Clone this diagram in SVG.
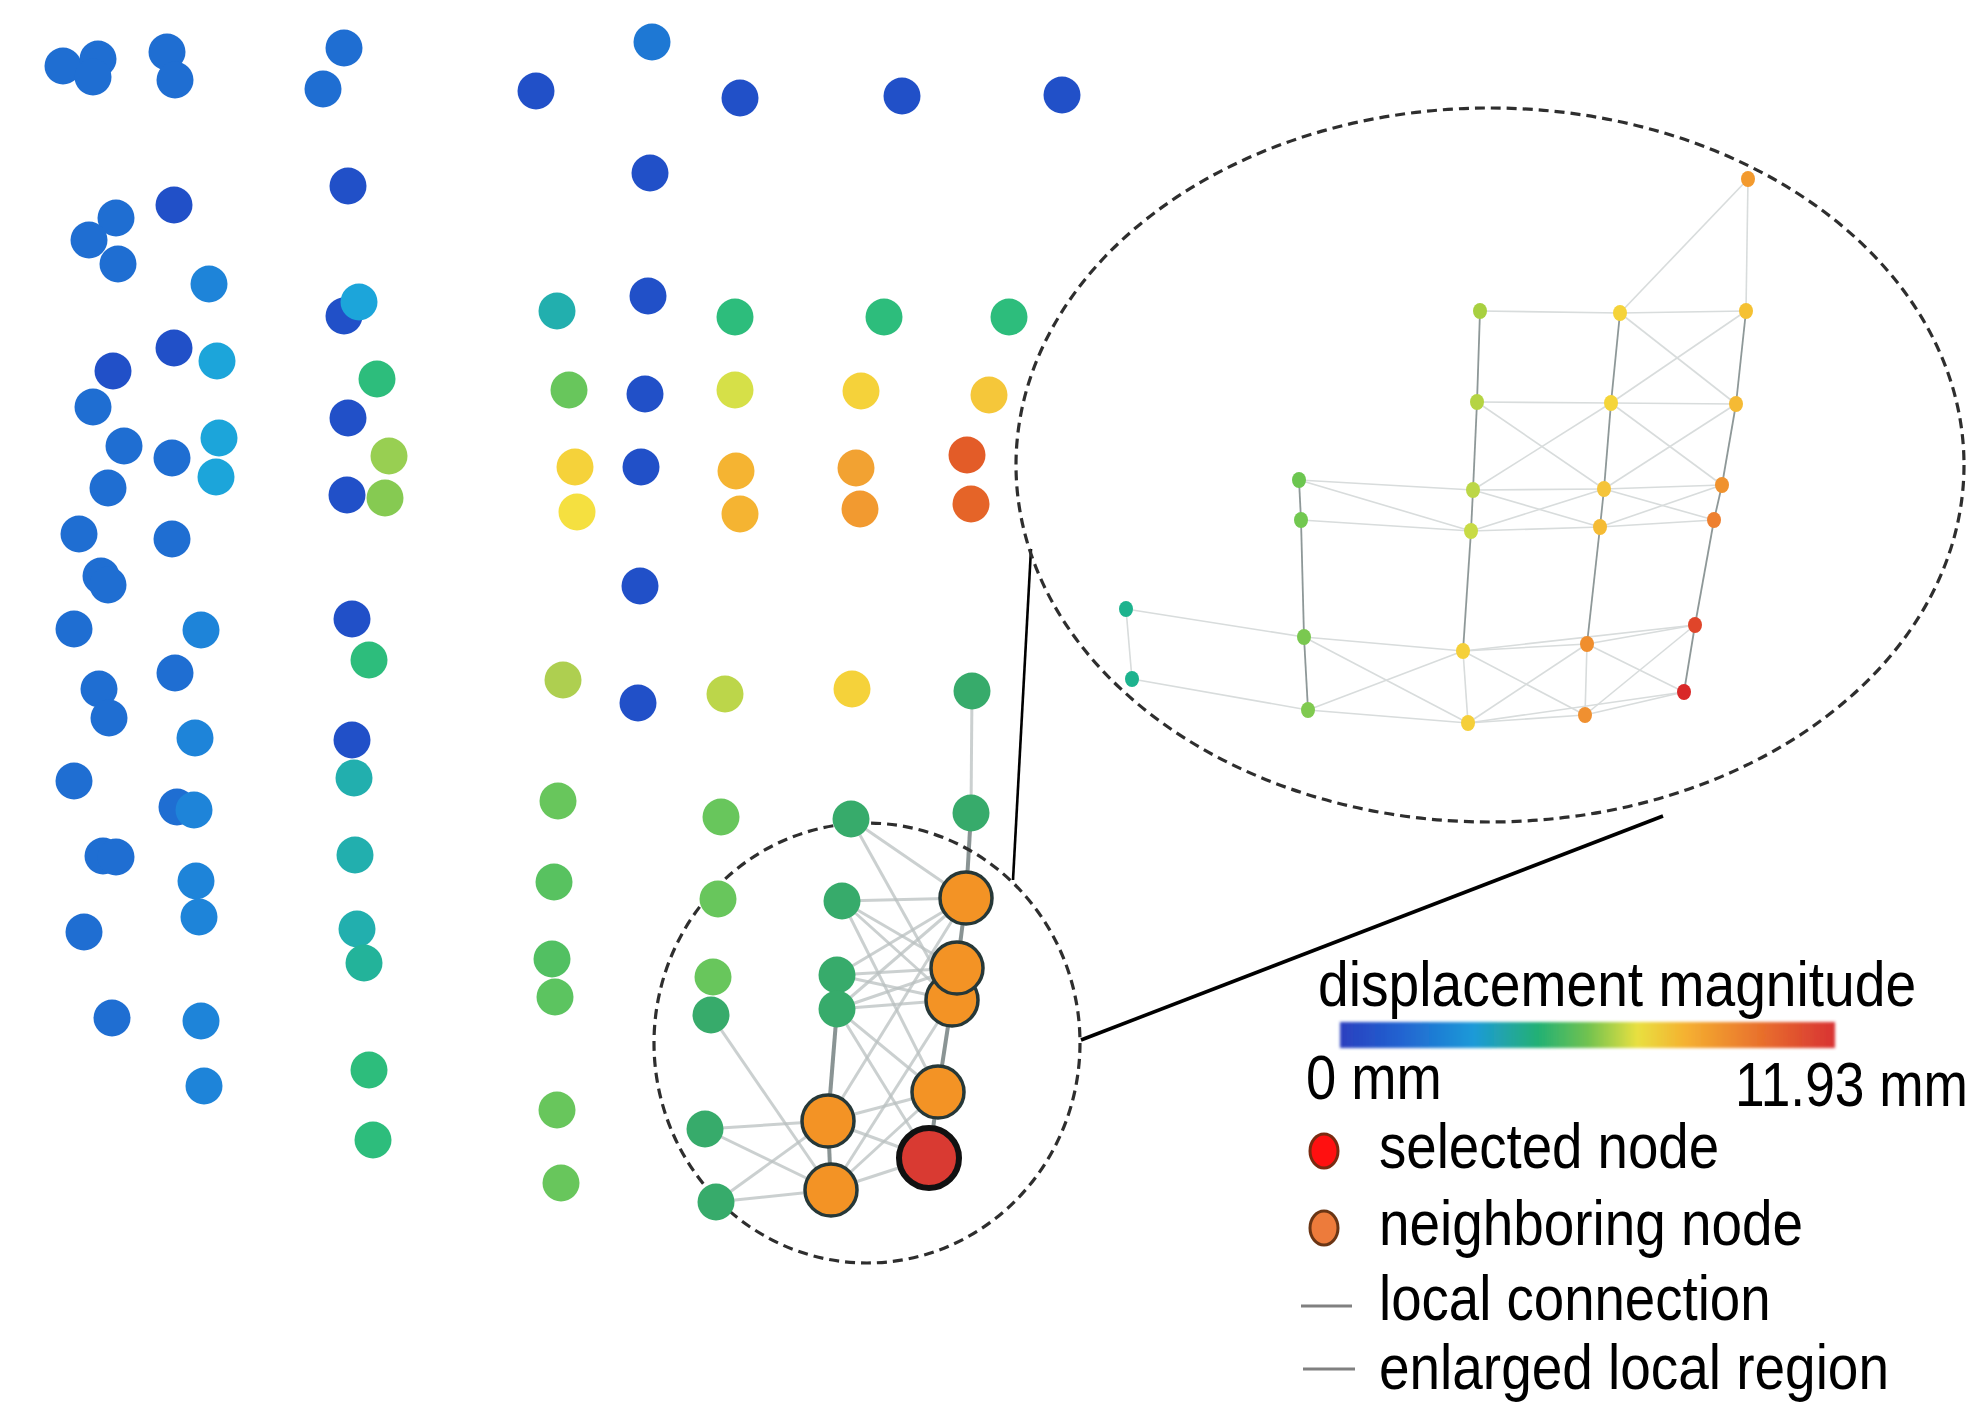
<svg xmlns="http://www.w3.org/2000/svg" width="1984" height="1417" viewBox="0 0 1984 1417">
<defs>
<style>
.d{stroke:none}
.b1{fill:#2150C8}.b2{fill:#1F6ED2}.b3{fill:#1E84D9}.cy{fill:#1CA5DA}.tl{fill:#22AFAE}.tg{fill:#23B39A}
.gr{fill:#2DBD7C}.dg{fill:#37AB6B}.lg{fill:#68C65C}.lg2{fill:#98CF52}.yg{fill:#BCD64A}.yl{fill:#D6E048}
.ye{fill:#F5D23A}.oy{fill:#F5B432}.or{fill:#F29A30}.ro{fill:#E35C28}
.big{fill:#F39325;stroke:#263838;stroke-width:3.5}
.sel{fill:#D93A32;stroke:#111;stroke-width:6}
.e{stroke:#b9c0c0;stroke-width:3;stroke-opacity:0.75;fill:none}
.ed{stroke:#8a9494;stroke-width:4;fill:none}
.ie{stroke:#d8dcdc;stroke-width:1.6;fill:none}
.ied{stroke:#8e9898;stroke-width:1.8;fill:none}
.dash{fill:none;stroke:#2e2e2e;stroke-width:3.2;stroke-dasharray:10 6}
.zl{stroke:#000;fill:none}
.t{font-family:"Liberation Sans",Arial,sans-serif;font-size:63px;fill:#000}
</style>
<linearGradient id="cbar" x1="0" y1="0" x2="1" y2="0">
<stop offset="0" stop-color="#2B3FBF"/>
<stop offset="0.12" stop-color="#2062D0"/>
<stop offset="0.27" stop-color="#1E9AD8"/>
<stop offset="0.4" stop-color="#22B074"/>
<stop offset="0.5" stop-color="#70C250"/>
<stop offset="0.6" stop-color="#E8E040"/>
<stop offset="0.7" stop-color="#F5B030"/>
<stop offset="0.85" stop-color="#E8702C"/>
<stop offset="1" stop-color="#D83232"/>
</linearGradient>
<filter id="soft" x="-5%" y="-40%" width="110%" height="180%"><feGaussianBlur stdDeviation="1.5"/></filter>
</defs>
<rect width="1984" height="1417" fill="#fff"/>

<g id="connectors">
<line class="e" x1="972" y1="691" x2="971" y2="813"/>
<line class="e" x1="851" y1="819" x2="966" y2="898"/>
<line class="e" x1="851" y1="819" x2="952" y2="1000"/>
<line class="e" x1="842" y1="901" x2="966" y2="898"/>
<line class="e" x1="842" y1="901" x2="957" y2="968"/>
<line class="e" x1="842" y1="901" x2="952" y2="1000"/>
<line class="e" x1="842" y1="901" x2="938" y2="1092"/>
<line class="e" x1="837" y1="975" x2="966" y2="898"/>
<line class="e" x1="837" y1="975" x2="957" y2="968"/>
<line class="e" x1="837" y1="975" x2="952" y2="1000"/>
<line class="e" x1="837" y1="1009" x2="966" y2="898"/>
<line class="e" x1="837" y1="1009" x2="957" y2="968"/>
<line class="e" x1="837" y1="1009" x2="952" y2="1000"/>
<line class="e" x1="837" y1="1009" x2="938" y2="1092"/>
<line class="e" x1="837" y1="1009" x2="929" y2="1158"/>
<line class="e" x1="966" y1="898" x2="828" y2="1121"/>
<line class="e" x1="952" y1="1000" x2="831" y2="1190"/>
<line class="e" x1="828" y1="1121" x2="938" y2="1092"/>
<line class="e" x1="828" y1="1121" x2="929" y2="1158"/>
<line class="e" x1="831" y1="1190" x2="929" y2="1158"/>
<line class="e" x1="831" y1="1190" x2="938" y2="1092"/>
<line class="e" x1="705" y1="1129" x2="828" y2="1121"/>
<line class="e" x1="705" y1="1129" x2="831" y2="1190"/>
<line class="e" x1="716" y1="1202" x2="828" y2="1121"/>
<line class="e" x1="716" y1="1202" x2="831" y2="1190"/>
<line class="e" x1="711" y1="1015" x2="831" y2="1190"/>
<line class="ed" x1="971" y1="813" x2="966" y2="898"/>
<line class="ed" x1="966" y1="898" x2="957" y2="968"/>
<line class="ed" x1="952" y1="1000" x2="938" y2="1092"/>
<line class="ed" x1="938" y1="1092" x2="929" y2="1158"/>
<line class="ed" x1="837" y1="1009" x2="828" y2="1121"/>
<line class="ed" x1="828" y1="1121" x2="831" y2="1190"/>

<line class="ie" x1="1748" y1="179" x2="1746" y2="311"/>
<line class="ie" x1="1748" y1="179" x2="1620" y2="313"/>
<line class="ie" x1="1480" y1="311" x2="1620" y2="313"/>
<line class="ie" x1="1620" y1="313" x2="1746" y2="311"/>
<line class="ie" x1="1620" y1="313" x2="1736" y2="404"/>
<line class="ie" x1="1746" y1="311" x2="1611" y2="403"/>
<line class="ie" x1="1477" y1="402" x2="1611" y2="403"/>
<line class="ie" x1="1611" y1="403" x2="1736" y2="404"/>
<line class="ie" x1="1477" y1="402" x2="1604" y2="489"/>
<line class="ie" x1="1611" y1="403" x2="1473" y2="490"/>
<line class="ie" x1="1611" y1="403" x2="1722" y2="485"/>
<line class="ie" x1="1736" y1="404" x2="1604" y2="489"/>
<line class="ie" x1="1299" y1="480" x2="1473" y2="490"/>
<line class="ie" x1="1299" y1="480" x2="1471" y2="531"/>
<line class="ie" x1="1301" y1="520" x2="1471" y2="531"/>
<line class="ie" x1="1473" y1="490" x2="1604" y2="489"/>
<line class="ie" x1="1604" y1="489" x2="1722" y2="485"/>
<line class="ie" x1="1471" y1="531" x2="1600" y2="527"/>
<line class="ie" x1="1600" y1="527" x2="1714" y2="520"/>
<line class="ie" x1="1473" y1="490" x2="1600" y2="527"/>
<line class="ie" x1="1471" y1="531" x2="1604" y2="489"/>
<line class="ie" x1="1604" y1="489" x2="1714" y2="520"/>
<line class="ie" x1="1722" y1="485" x2="1600" y2="527"/>
<line class="ie" x1="1126" y1="609" x2="1132" y2="679"/>
<line class="ie" x1="1126" y1="609" x2="1304" y2="637"/>
<line class="ie" x1="1132" y1="679" x2="1308" y2="710"/>
<line class="ie" x1="1304" y1="637" x2="1463" y2="651"/>
<line class="ie" x1="1308" y1="710" x2="1468" y2="723"/>
<line class="ie" x1="1304" y1="637" x2="1468" y2="723"/>
<line class="ie" x1="1308" y1="710" x2="1463" y2="651"/>
<line class="ie" x1="1463" y1="651" x2="1587" y2="644"/>
<line class="ie" x1="1468" y1="723" x2="1585" y2="715"/>
<line class="ie" x1="1463" y1="651" x2="1585" y2="715"/>
<line class="ie" x1="1587" y1="644" x2="1468" y2="723"/>
<line class="ie" x1="1463" y1="651" x2="1695" y2="625"/>
<line class="ie" x1="1587" y1="644" x2="1695" y2="625"/>
<line class="ie" x1="1587" y1="644" x2="1684" y2="692"/>
<line class="ie" x1="1695" y1="625" x2="1585" y2="715"/>
<line class="ie" x1="1585" y1="715" x2="1684" y2="692"/>
<line class="ie" x1="1468" y1="723" x2="1684" y2="692"/>
<line class="ie" x1="1463" y1="651" x2="1468" y2="723"/>
<line class="ie" x1="1587" y1="644" x2="1585" y2="715"/>
<line class="ied" x1="1480" y1="311" x2="1477" y2="402"/>
<line class="ied" x1="1620" y1="313" x2="1611" y2="403"/>
<line class="ied" x1="1746" y1="311" x2="1736" y2="404"/>
<line class="ied" x1="1477" y1="402" x2="1473" y2="490"/>
<line class="ied" x1="1611" y1="403" x2="1604" y2="489"/>
<line class="ied" x1="1736" y1="404" x2="1722" y2="485"/>
<line class="ied" x1="1299" y1="480" x2="1301" y2="520"/>
<line class="ied" x1="1473" y1="490" x2="1471" y2="531"/>
<line class="ied" x1="1604" y1="489" x2="1600" y2="527"/>
<line class="ied" x1="1722" y1="485" x2="1714" y2="520"/>
<line class="ied" x1="1301" y1="520" x2="1304" y2="637"/>
<line class="ied" x1="1471" y1="531" x2="1463" y2="651"/>
<line class="ied" x1="1600" y1="527" x2="1587" y2="644"/>
<line class="ied" x1="1714" y1="520" x2="1695" y2="625"/>
<line class="ied" x1="1304" y1="637" x2="1308" y2="710"/>
<line class="ied" x1="1695" y1="625" x2="1684" y2="692"/>

<line class="zl" stroke-width="2.6" x1="1031" y1="549" x2="1013" y2="880"/>
<line class="zl" stroke-width="3.6" x1="1081" y1="1040" x2="1663" y2="816"/>
</g>

<g id="regions">
<ellipse id="enlarged-region" class="dash" cx="1490" cy="465" rx="474" ry="357"/>
<ellipse id="local-region" class="dash" cx="867" cy="1043" rx="213" ry="220"/>
</g>

<g id="nodes">
<g id="n1"><circle class="b2" cx="63" cy="66" r="18.5"/></g>
<g id="n2"><circle class="b2" cx="98" cy="59" r="18.5"/></g>
<g id="n3"><circle class="b2" cx="93" cy="77" r="18.5"/></g>
<g id="n4"><circle class="b2" cx="167" cy="52" r="18.5"/></g>
<g id="n5"><circle class="b2" cx="175" cy="80" r="18.5"/></g>
<g id="n6"><circle class="b2" cx="344" cy="48" r="18.5"/></g>
<g id="n7"><circle class="b2" cx="323" cy="89" r="18.5"/></g>
<g id="n8"><circle class="b1" cx="348" cy="186" r="18.5"/></g>
<g id="n9"><circle class="b2" cx="116" cy="218" r="18.5"/></g>
<g id="n10"><circle class="b2" cx="89" cy="240" r="18.5"/></g>
<g id="n11"><circle class="b2" cx="118" cy="264" r="18.5"/></g>
<g id="n12"><circle class="b1" cx="174" cy="205" r="18.5"/></g>
<g id="n13"><circle class="b3" cx="209" cy="284" r="18.5"/></g>
<g id="n14"><circle class="b1" cx="344" cy="316" r="18.5"/></g>
<g id="n15"><circle class="cy" cx="359" cy="302" r="18.5"/></g>
<g id="n16"><circle class="b1" cx="174" cy="348" r="18.5"/></g>
<g id="n17"><circle class="cy" cx="217" cy="361" r="18.5"/></g>
<g id="n18"><circle class="b1" cx="113" cy="371" r="18.5"/></g>
<g id="n19"><circle class="b2" cx="93" cy="407" r="18.5"/></g>
<g id="n20"><circle class="b2" cx="124" cy="446" r="18.5"/></g>
<g id="n21"><circle class="b2" cx="172" cy="458" r="18.5"/></g>
<g id="n22"><circle class="cy" cx="219" cy="438" r="18.5"/></g>
<g id="n23"><circle class="cy" cx="216" cy="477" r="18.5"/></g>
<g id="n24"><circle class="b2" cx="108" cy="488" r="18.5"/></g>
<g id="n25"><circle class="b2" cx="79" cy="534" r="18.5"/></g>
<g id="n26"><circle class="b2" cx="172" cy="539" r="18.5"/></g>
<g id="n27"><circle class="b1" cx="348" cy="418" r="18.5"/></g>
<g id="n28"><circle class="gr" cx="377" cy="379" r="18.5"/></g>
<g id="n29"><circle class="lg2" cx="389" cy="456" r="18.5"/></g>
<g id="n30"><circle class="b1" cx="347" cy="495" r="18.5"/></g>
<g id="n31"><circle class="lg2" cx="385" cy="498" r="18.5" style="fill:#86CA52"/></g>
<g id="n32"><circle class="b2" cx="101" cy="576" r="18.5"/></g>
<g id="n33"><circle class="b2" cx="108" cy="585" r="18.5"/></g>
<g id="n34"><circle class="b2" cx="74" cy="629" r="18.5"/></g>
<g id="n35"><circle class="b3" cx="201" cy="630" r="18.5"/></g>
<g id="n36"><circle class="b2" cx="175" cy="673" r="18.5"/></g>
<g id="n37"><circle class="b2" cx="99" cy="689" r="18.5"/></g>
<g id="n38"><circle class="b2" cx="109" cy="718" r="18.5"/></g>
<g id="n39"><circle class="b3" cx="195" cy="738" r="18.5"/></g>
<g id="n40"><circle class="b2" cx="74" cy="781" r="18.5"/></g>
<g id="n41"><circle class="b2" cx="177" cy="807" r="18.5"/></g>
<g id="n42"><circle class="b3" cx="194" cy="810" r="18.5"/></g>
<g id="n43"><circle class="b2" cx="103" cy="856" r="18.5"/></g>
<g id="n44"><circle class="b2" cx="116" cy="857" r="18.5"/></g>
<g id="n45"><circle class="b3" cx="196" cy="881" r="18.5"/></g>
<g id="n46"><circle class="b3" cx="199" cy="917" r="18.5"/></g>
<g id="n47"><circle class="b2" cx="84" cy="932" r="18.5"/></g>
<g id="n48"><circle class="b2" cx="112" cy="1018" r="18.5"/></g>
<g id="n49"><circle class="b3" cx="201" cy="1021" r="18.5"/></g>
<g id="n50"><circle class="b3" cx="204" cy="1086" r="18.5"/></g>
<g id="n51"><circle class="b1" cx="352" cy="619" r="18.5"/></g>
<g id="n52"><circle class="gr" cx="369" cy="660" r="18.5"/></g>
<g id="n53"><circle class="b1" cx="352" cy="740" r="18.5"/></g>
<g id="n54"><circle class="tl" cx="354" cy="778" r="18.5"/></g>
<g id="n55"><circle class="tl" cx="355" cy="855" r="18.5"/></g>
<g id="n56"><circle class="tl" cx="357" cy="929" r="18.5"/></g>
<g id="n57"><circle class="tg" cx="364" cy="963" r="18.5"/></g>
<g id="n58"><circle class="gr" cx="369" cy="1070" r="18.5"/></g>
<g id="n59"><circle class="gr" cx="373" cy="1140" r="18.5"/></g>

<g id="n60"><circle class="b1" cx="536" cy="91" r="18.5"/></g>
<g id="n61"><circle class="b2" cx="652" cy="42" r="18.5" style="fill:#1E78D4"/></g>
<g id="n62"><circle class="b1" cx="650" cy="173" r="18.5"/></g>
<g id="n63"><circle class="b1" cx="740" cy="98" r="18.5"/></g>
<g id="n64"><circle class="b1" cx="902" cy="96" r="18.5"/></g>
<g id="n65"><circle class="b1" cx="1062" cy="95" r="18.5"/></g>
<g id="n66"><circle class="tl" cx="557" cy="311" r="18.5"/></g>
<g id="n67"><circle class="b1" cx="648" cy="296" r="18.5"/></g>
<g id="n68"><circle class="gr" cx="735" cy="317" r="18.5"/></g>
<g id="n69"><circle class="gr" cx="884" cy="317" r="18.5"/></g>
<g id="n70"><circle class="gr" cx="1009" cy="317" r="18.5"/></g>
<g id="n71"><circle class="lg" cx="569" cy="390" r="18.5"/></g>
<g id="n72"><circle class="b1" cx="645" cy="394" r="18.5"/></g>
<g id="n73"><circle class="yl" cx="735" cy="390" r="18.5"/></g>
<g id="n74"><circle class="ye" cx="861" cy="391" r="18.5"/></g>
<g id="n75"><circle class="ye" cx="989" cy="395" r="18.5" style="fill:#F5C73A"/></g>
<g id="n76"><circle class="ye" cx="575" cy="467" r="18.5"/></g>
<g id="n77"><circle class="b1" cx="641" cy="467" r="18.5"/></g>
<g id="n78"><circle class="oy" cx="736" cy="471" r="18.5"/></g>
<g id="n79"><circle class="or" cx="856" cy="468" r="18.5" style="fill:#F2A232"/></g>
<g id="n80"><circle class="ro" cx="967" cy="455" r="18.5"/></g>
<g id="n81"><circle class="ye" cx="577" cy="512" r="18.5" style="fill:#F5E040"/></g>
<g id="n82"><circle class="oy" cx="740" cy="514" r="18.5"/></g>
<g id="n83"><circle class="or" cx="860" cy="509" r="18.5"/></g>
<g id="n84"><circle class="ro" cx="971" cy="504" r="18.5" style="fill:#E56428"/></g>
<g id="n85"><circle class="b1" cx="640" cy="586" r="18.5"/></g>
<g id="n86"><circle class="yg" cx="563" cy="680" r="18.5" style="fill:#AECF50"/></g>
<g id="n87"><circle class="b1" cx="638" cy="703" r="18.5"/></g>
<g id="n88"><circle class="yg" cx="725" cy="694" r="18.5"/></g>
<g id="n89"><circle class="ye" cx="852" cy="689" r="18.5"/></g>
<g id="n90"><circle class="dg" cx="972" cy="691" r="18.5"/></g>
<g id="n91"><circle class="lg" cx="558" cy="801" r="18.5"/></g>
<g id="n92"><circle class="lg" cx="721" cy="817" r="18.5"/></g>
<g id="n93"><circle class="dg" cx="851" cy="819" r="18.5"/></g>
<g id="n94"><circle class="dg" cx="971" cy="813" r="18.5"/></g>
<g id="n95"><circle class="lg" cx="554" cy="882" r="18.5" style="fill:#58C260"/></g>
<g id="n96"><circle class="lg" cx="718" cy="899" r="18.5"/></g>
<g id="n97"><circle class="dg" cx="842" cy="901" r="18.5"/></g>
<g id="n98"><circle class="lg" cx="552" cy="959" r="18.5" style="fill:#52C062"/></g>
<g id="n99"><circle class="lg" cx="555" cy="997" r="18.5" style="fill:#5CC460"/></g>
<g id="n100"><circle class="lg" cx="713" cy="977" r="18.5"/></g>
<g id="n101"><circle class="dg" cx="711" cy="1015" r="18.5"/></g>
<g id="n102"><circle class="dg" cx="837" cy="975" r="18.5"/></g>
<g id="n103"><circle class="dg" cx="837" cy="1009" r="18.5"/></g>
<g id="n104"><circle class="lg" cx="557" cy="1110" r="18.5"/></g>
<g id="n105"><circle class="lg" cx="561" cy="1183" r="18.5"/></g>
<g id="n106"><circle class="dg" cx="705" cy="1129" r="18.5"/></g>
<g id="n107"><circle class="dg" cx="716" cy="1202" r="18.5"/></g>

<g id="nb1"><circle class="big" cx="966" cy="898" r="26"/></g>
<g id="nb3"><circle class="big" cx="952" cy="1000" r="26"/></g>
<g id="nb2"><circle class="big" cx="957" cy="968" r="26"/></g>
<g id="nb4"><circle class="big" cx="938" cy="1092" r="26"/></g>
<g id="nb5"><circle class="big" cx="828" cy="1121" r="26"/></g>
<g id="nb6"><circle class="big" cx="831" cy="1190" r="26"/></g>
<g id="selected"><circle class="sel" cx="929" cy="1158" r="30"/></g>

<g id="z1"><ellipse cx="1748" cy="179" rx="7" ry="8" fill="#F39A2E"/></g>
<g id="z2"><ellipse cx="1480" cy="311" rx="7" ry="8" fill="#A8D040"/></g>
<g id="z3"><ellipse cx="1620" cy="313" rx="7" ry="8" fill="#F5D33A"/></g>
<g id="z4"><ellipse cx="1746" cy="311" rx="7" ry="8" fill="#F5C133"/></g>
<g id="z5"><ellipse cx="1477" cy="402" rx="7" ry="8" fill="#B5D443"/></g>
<g id="z6"><ellipse cx="1611" cy="403" rx="7" ry="8" fill="#F5D53A"/></g>
<g id="z7"><ellipse cx="1736" cy="404" rx="7" ry="8" fill="#F5BA34"/></g>
<g id="z8"><ellipse cx="1299" cy="480" rx="7" ry="8" fill="#6CC650"/></g>
<g id="z9"><ellipse cx="1473" cy="490" rx="7" ry="8" fill="#BCD747"/></g>
<g id="z10"><ellipse cx="1604" cy="489" rx="7" ry="8" fill="#F5C43A"/></g>
<g id="z11"><ellipse cx="1722" cy="485" rx="7" ry="8" fill="#F0922E"/></g>
<g id="z12"><ellipse cx="1301" cy="520" rx="7" ry="8" fill="#72C850"/></g>
<g id="z13"><ellipse cx="1471" cy="531" rx="7" ry="8" fill="#C8DB45"/></g>
<g id="z14"><ellipse cx="1600" cy="527" rx="7" ry="8" fill="#F5BB34"/></g>
<g id="z15"><ellipse cx="1714" cy="520" rx="7" ry="8" fill="#EE8030"/></g>
<g id="z16"><ellipse cx="1126" cy="609" rx="7" ry="8" fill="#1DB38E"/></g>
<g id="z17"><ellipse cx="1304" cy="637" rx="7" ry="8" fill="#7AC850"/></g>
<g id="z18"><ellipse cx="1463" cy="651" rx="7" ry="8" fill="#F5D03A"/></g>
<g id="z19"><ellipse cx="1587" cy="644" rx="7" ry="8" fill="#F08E2E"/></g>
<g id="z20"><ellipse cx="1695" cy="625" rx="7" ry="8" fill="#E0452A"/></g>
<g id="z21"><ellipse cx="1132" cy="679" rx="7" ry="8" fill="#1DB38E"/></g>
<g id="z22"><ellipse cx="1308" cy="710" rx="7" ry="8" fill="#80CA50"/></g>
<g id="z23"><ellipse cx="1468" cy="723" rx="7" ry="8" fill="#F5CF3A"/></g>
<g id="z24"><ellipse cx="1585" cy="715" rx="7" ry="8" fill="#F09030"/></g>
<g id="z25"><ellipse cx="1684" cy="692" rx="7" ry="8" fill="#D92828"/></g>
</g>

<g id="legend">
<text class="t" transform="translate(1318,1006) scale(0.876,1)">displacement magnitude</text>
<rect x="1340" y="1022" width="495" height="26" fill="url(#cbar)" filter="url(#soft)"/>
<text class="t" transform="translate(1306,1099) scale(0.863,1)">0 mm</text>
<text class="t" transform="translate(1735,1106) scale(0.846,1)">11.93 mm</text>
<ellipse cx="1324" cy="1151" rx="14" ry="17" fill="#FF1010" stroke="#7A2A10" stroke-width="3"/>
<text class="t" transform="translate(1379,1168) scale(0.867,1)">selected node</text>
<ellipse cx="1324" cy="1228" rx="14" ry="17" fill="#ED7B3B" stroke="#6A3514" stroke-width="3"/>
<text class="t" transform="translate(1379,1245) scale(0.871,1)">neighboring node</text>
<line x1="1301" y1="1306" x2="1352" y2="1306" stroke="#808080" stroke-width="3"/>
<text class="t" transform="translate(1379,1320) scale(0.867,1)">local connection</text>
<line x1="1303" y1="1369" x2="1355" y2="1369" stroke="#808080" stroke-width="3"/>
<text class="t" transform="translate(1379,1389) scale(0.872,1)">enlarged local region</text>
</g>
</svg>
